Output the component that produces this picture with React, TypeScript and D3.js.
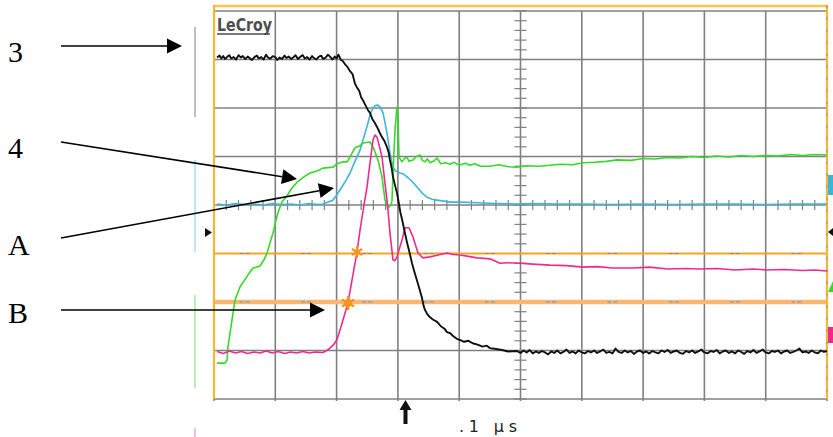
import React from "react";
import * as d3 from "d3";

// time in ns (0.1 µs / div, 10 divisions), amplitude in divisions (-4..4)
const timeTicks = [0, 100, 200, 300, 400, 500, 600, 700, 800, 900, 1000];
const ampTicks = [-4, -3, -2, -1, 0, 1, 2, 3, 4];
const cursorLevels = [-1, -2];
const timeLabel = ".1 µs";
const labels = ["3", "4", "A", "B"];

const ch3Black: [number, number][] = [
  [5, 3.04], [9, 3.08], [12, 3.02], [15, 3.07], [18, 3.01], [22, 3.06], [25, 3.09], [28, 3.02], [32, 3.05],
  [36, 3.0], [40, 3.09], [44, 3.04], [47, 3.07], [51, 3.01], [55, 3.06], [58, 3.03], [62, 2.99], [66, 3.05],
  [70, 3.08], [73, 3.02], [77, 3.05], [81, 3.0], [85, 3.1], [88, 3.04], [92, 3.02], [96, 3.07], [100, 3.05],
  [103, 2.99], [107, 3.04], [111, 3.01], [115, 3.08], [118, 3.03], [122, 3.06], [126, 3.01], [130, 3.05],
  [133, 3.09], [137, 3.01], [141, 3.06], [145, 3.09], [148, 3.02], [152, 3.05], [156, 3.0], [160, 3.07],
  [163, 3.03], [167, 3.0], [171, 3.06], [175, 3.08], [178, 3.01], [182, 3.04], [186, 3.1], [190, 3.05],
  [193, 3.0], [197, 3.06], [200, 3.02], [203, 3.1], [207, 2.99], [210, 2.97], [214, 2.9], [218, 2.84],
  [222, 2.76], [226, 2.7], [230, 2.5], [233, 2.43], [237, 2.35], [240, 2.22], [243, 2.16], [247, 2.06],
  [251, 1.96], [254.5, 1.9], [258, 1.78], [262, 1.7], [266, 1.61], [270, 1.5], [274, 1.4], [278, 1.32],
  [282, 1.2], [285, 1.08], [287, 0.93], [290, 0.75], [292, 0.58], [295, 0.42], [298.5, 0.25], [302, 0.0],
  [304, -0.15], [307, -0.31], [311, -0.55], [315, -0.78], [319, -0.98], [323, -1.2], [327, -1.38],
  [331, -1.55], [335, -1.72], [339, -1.9], [342, -2.08], [344, -2.16], [348, -2.25], [352, -2.31],
  [357, -2.36], [364, -2.41], [370, -2.5], [376, -2.55], [380, -2.62], [385, -2.64], [390, -2.7],
  [396, -2.76], [401, -2.78], [408, -2.82], [415, -2.8], [422, -2.85], [430, -2.88], [438, -2.92],
  [445, -2.9], [450, -2.95], [460, -2.97], [470, -2.99], [480, -3.02], [494, -3.01], [500, -3.05],
  [505, -3.0], [510, -3.04], [515, -2.99], [520, -3.06], [525, -3.02], [530, -3.05], [535, -3.01],
  [540, -3.04], [545, -3.08], [550, -3.02], [555, -3.05], [560, -3.0], [565, -3.06], [570, -3.03],
  [575, -2.98], [580, -3.05], [585, -3.02], [590, -3.06], [595, -3.0], [600, -3.04], [605, -3.06],
  [610, -3.01], [615, -3.04], [620, -3.0], [625, -3.05], [630, -3.02], [635, -2.98], [640, -3.05],
  [645, -3.03], [650, -3.06], [655, -2.96], [660, -3.03], [665, -3.05], [670, -3.0], [675, -3.04],
  [680, -3.01], [685, -3.07], [690, -3.02], [695, -3.0], [700, -3.05], [705, -3.02], [710, -3.06],
  [715, -3.01], [720, -3.04], [725, -3.06], [730, -3.0], [735, -3.03], [740, -2.99], [745, -3.05],
  [750, -3.02], [755, -3.0], [760, -3.05], [765, -3.07], [770, -3.01], [775, -3.04], [780, -3.0],
  [785, -3.05], [790, -3.02], [795, -2.98], [800, -3.04], [805, -3.06], [810, -3.01], [815, -3.03],
  [820, -2.99], [825, -3.06], [830, -3.02], [835, -3.0], [840, -3.05], [845, -3.02], [850, -3.06],
  [855, -3.0], [860, -3.03], [865, -3.07], [870, -3.01], [875, -3.04], [880, -2.99], [885, -3.05],
  [890, -3.02], [895, -2.98], [900, -3.04], [905, -3.06], [910, -3.01], [915, -3.03], [920, -3.0],
  [925, -3.06], [930, -3.02], [935, -3.0], [940, -3.05], [945, -3.03], [950, -3.0], [955, -2.96],
  [960, -3.04], [965, -3.02], [970, -3.05], [975, -3.0], [980, -3.04], [985, -3.06], [990, -3.0],
  [995, -3.03], [1000, -3.01],
];

const chACyan: [number, number][] = [
  [5, 0.02], [20, 0.0], [35, 0.03], [50, 0.01], [65, 0.02], [80, 0.0], [95, 0.03], [110, 0.01],
  [125, 0.02], [140, 0.0], [155, 0.03], [170, 0.01], [178, 0.02], [186, 0.06], [194, 0.1], [200, 0.2],
  [205.5, 0.31], [214, 0.48], [221.9, 0.66], [230, 0.9], [238.2, 1.13], [245, 1.42], [251.2, 1.69],
  [255, 1.88], [259.4, 2.0], [263, 2.05], [267.5, 2.06], [271, 2.02], [275.7, 1.9], [279, 1.7],
  [282.2, 1.48], [285, 1.25], [287.1, 1.07], [290, 0.88], [292, 0.78], [296, 0.7], [303.4, 0.66],
  [309, 0.64], [314.8, 0.58], [322, 0.5], [331.2, 0.37], [340, 0.24], [347.5, 0.16], [356, 0.12],
  [363.8, 0.1], [375, 0.08], [385, 0.06], [400, 0.06], [420, 0.05], [438.8, 0.04], [460, 0.03],
  [494.3, 0.02], [520, 0.03], [560, 0.02], [600, 0.02], [650, 0.01], [700, 0.02], [750, 0.01],
  [800, 0.02], [850, 0.02], [900, 0.01], [950, 0.02], [1000, 0.02],
];

const ch4Green: [number, number][] = [
  [4.9, -3.26], [17.9, -3.26], [21.2, -3.2], [22.8, -2.93], [26.1, -2.64], [29.4, -2.37], [34.3, -1.96],
  [42.4, -1.69], [55.5, -1.44], [63.6, -1.3], [75, -1.26], [81.6, -1.13], [86.5, -0.99], [91.4, -0.78],
  [96.2, -0.58], [101.1, -0.31], [104.4, -0.16], [107.7, -0.04], [110.9, 0.06], [119.1, 0.19],
  [127.2, 0.35], [135.4, 0.47], [146.8, 0.58], [156.6, 0.66], [168, 0.7], [177.8, 0.76], [194.1, 0.78],
  [200.6, 0.85], [210.4, 0.89], [217, 0.89], [221.9, 0.99], [230, 1.18], [238.2, 1.22], [243.1, 1.28],
  [254.5, 1.3], [259.4, 1.2], [267.5, 0.93], [274.1, 0.58], [279, 0.1], [283.8, -0.06], [288.7, 0.0],
  [290.4, 0.1], [292, 0.66], [295.3, 1.55], [298.5, 2.02], [300.2, 1.81], [301.8, 0.99], [306.7, 0.89],
  [310, 0.95], [314.8, 0.99], [318, 0.9], [324.6, 0.93], [330, 1.0], [336, 1.03], [340, 0.92],
  [344.2, 0.89], [348, 0.95], [352.4, 0.87], [358, 0.9], [363.8, 0.97], [370, 0.85], [378, 0.87],
  [385, 0.84], [392, 0.88], [400, 0.82], [410, 0.86], [417.6, 0.82], [425, 0.85], [435, 0.8],
  [450.2, 0.8], [465, 0.83], [480, 0.79], [494.3, 0.78], [510, 0.81], [530, 0.8], [548, 0.82],
  [565, 0.84], [585, 0.83], [601.9, 0.87], [620, 0.88], [640, 0.9], [657.4, 0.93], [680, 0.92],
  [700, 0.96], [720, 0.95], [740, 0.98], [760, 0.97], [780, 1.0], [800, 0.98], [820, 1.01], [840, 0.99],
  [860, 1.02], [880, 1.0], [900, 1.02], [920, 1.01], [940, 1.04], [960, 1.02], [980, 1.04], [1000, 1.03],
];

const chBPink: [number, number][] = [
  [5, -3.02], [15, -3.06], [25, -3.01], [35, -3.05], [45, -3.02], [55, -3.06], [65, -3.03], [75, -3.05],
  [85, -3.01], [95, -3.05], [105, -3.02], [115, -3.06], [125, -3.03], [135, -3.05], [145, -3.02],
  [155, -3.05], [165, -3.03], [177.8, -3.04], [184, -3.0], [189.2, -2.95], [195, -2.88], [200.6, -2.78],
  [205.5, -2.58], [210.4, -2.37], [218.6, -2.02], [225.1, -1.55], [233.3, -0.97], [238.2, -0.52],
  [244.7, 0.0], [249.6, 0.37], [254.5, 0.87], [259.4, 1.34], [262.6, 1.44], [265.9, 1.4], [270, 1.2],
  [274.1, 0.99], [278, 0.55], [282.2, 0.1], [283.8, -0.1], [287.1, -0.58], [292, -1.13], [295, -1.15],
  [298.5, -1.07], [302, -0.92], [306.7, -0.72], [311.6, -0.47], [318.1, -0.47], [324.6, -0.66],
  [332.8, -0.99], [340.9, -1.09], [352.4, -1.07], [365.4, -1.03], [380.1, -0.99], [390, -1.02],
  [401.3, -1.03], [415, -1.06], [429, -1.09], [440, -1.1], [450.2, -1.11], [466.5, -1.2], [480, -1.19],
  [499.2, -1.2], [520, -1.22], [548.1, -1.24], [575, -1.25], [601.9, -1.28], [625, -1.27], [650, -1.3],
  [683.5, -1.3], [710, -1.28], [740, -1.32], [770, -1.31], [792.8, -1.32], [820, -1.31], [850, -1.34],
  [880, -1.32], [902.1, -1.34], [930, -1.33], [960, -1.35], [980, -1.34], [1000, -1.36],
];

// measurement markers on the B trace
const markerStar: [number, number] = [233.3, -0.97];
const markerBlob: [number, number] = [218.6, -2.02];

const W = 833;
const H = 437;

// annotation layout (pixels)
const annLabelX = 8;
const annArrows = [
  { ly: 62, x1: 61, y1: 46, x2: 182, y2: 46 },
  { ly: 158, x1: 61, y1: 142, x2: 297, y2: 179 },
  { ly: 255, x1: 61, y1: 238, x2: 334, y2: 188 },
  { ly: 323, x1: 61, y1: 310, x2: 325, y2: 310 },
];

function Arrow({ x1, y1, x2, y2 }: { x1: number; y1: number; x2: number; y2: number }) {
  const ang = Math.atan2(y2 - y1, x2 - x1);
  const L = 15;
  const hw = 7.5;
  const bx = x2 - L * Math.cos(ang);
  const by = y2 - L * Math.sin(ang);
  const px = -Math.sin(ang) * hw;
  const py = Math.cos(ang) * hw;
  return (
    <g>
      <line x1={x1} y1={y1} x2={bx} y2={by} stroke="#000" strokeWidth={1.6} />
      <path d={`M${x2},${y2}L${bx + px},${by + py}L${bx - px},${by - py}Z`} fill="#000" />
    </g>
  );
}

export default function App() {
  const x = d3.scaleLinear().domain([0, 1000]).range([214, 827]);
  const y = d3.scaleLinear().domain([-4, 4]).range([399, 11]);
  const line = d3
    .line<[number, number]>()
    .x((d) => x(d[0]))
    .y((d) => y(d[1]));

  const x0 = x(0), x1 = x(1000), yTop = y(4), yBot = y(-4);
  const xc = x(500), yc = y(0);
  const divW = x(100) - x(0);
  const g = (divW - 10) / 2;

  const hTicks: number[] = [];
  for (let t = 0; t <= 1000; t += 20) hTicks.push(t);
  const vTicks: number[] = [];
  for (let v = -4; v <= 4.0001; v += 0.2) vTicks.push(v);

  const star = (cx: number, cy: number, r: number) =>
    [0, 60, 120].map((a) => {
      const rad = (a * Math.PI) / 180 + Math.PI / 2;
      return `M${cx - r * Math.cos(rad)},${cy - r * Math.sin(rad)}L${cx + r * Math.cos(rad)},${cy + r * Math.sin(rad)}`;
    }).join("");

  return (
    <svg
      width={W}
      height={H}
      viewBox={`0 0 ${W} ${H}`}
      style={{ position: "fixed", left: 0, top: 0, background: "#fff" }}
    >
      <rect x={0} y={0} width={W} height={H} fill="#fff" />

      {/* left colour bars */}
      <line x1={195} x2={195} y1={27} y2={117} stroke="#a8a8a8" strokeWidth={1.5} />
      <line x1={195} x2={195} y1={160} y2={252} stroke="#a9dcf2" strokeWidth={1.5} />
      <line x1={195} x2={195} y1={295} y2={388} stroke="#a6eaa0" strokeWidth={1.5} />
      <line x1={195} x2={195} y1={428} y2={437} stroke="#f6a6c9" strokeWidth={1.5} />
      <path d={`M${205},${228}L${212},${232.5}L${205},${237}Z`} fill="#111" />

      {/* grid */}
      {timeTicks.map((t) => (
        <line key={"v" + t} x1={x(t)} x2={x(t)} y1={yTop} y2={yBot + 2} stroke="#808080" strokeWidth={1.6} />
      ))}
      {ampTicks
        .filter((v) => !cursorLevels.includes(v))
        .map((v) => (
          <line key={"h" + v} x1={x0} x2={x1} y1={y(v)} y2={y(v)} stroke="#808080" strokeWidth={1.6} />
        ))}
      {/* center ticks */}
      {hTicks.map((t) => (
        <line key={"ht" + t} x1={x(t)} x2={x(t)} y1={yc - 5} y2={yc + 5} stroke="#808080" strokeWidth={1.2} />
      ))}
      {vTicks.map((v) => (
        <line key={"vt" + v.toFixed(1)} x1={xc - 6} x2={xc + 6} y1={y(v)} y2={y(v)} stroke="#808080" strokeWidth={1.2} />
      ))}

      {/* cursor levels */}
      <line x1={x0} x2={x1} y1={y(-2)} y2={y(-2)} stroke="#f9b772" strokeWidth={4.5} />
      <line x1={x0} x2={x1} y1={y(-2)} y2={y(-2)} stroke="#a8a8a8" strokeWidth={1.8} strokeDasharray={`0 ${g} 4 2 4 ${g}`} />
      <line x1={x0} x2={x1} y1={y(-1)} y2={y(-1)} stroke="#f6a623" strokeWidth={1.8} />
      <line x1={x0} x2={x1} y1={y(-1)} y2={y(-1)} stroke="#8a8a8a" strokeWidth={1.2} strokeDasharray={`0 ${g} 4 2 4 ${g}`} />

      {/* frame */}
      <line x1={x0 - 1} x2={x1 + 1} y1={6} y2={6} stroke="#fbc44c" strokeWidth={2.5} />
      <line x1={x0} x2={x0} y1={5} y2={yBot} stroke="#f8b733" strokeWidth={2.2} />
      <line x1={x1} x2={x1} y1={5} y2={yBot} stroke="#f8b733" strokeWidth={2.2} />
      <line x1={x1} x2={x1} y1={5} y2={yBot} stroke="#999" strokeWidth={1.2} strokeDasharray="3 9" />

      {/* LeCroy */}
      <text
        x={217}
        y={31}
        fontFamily="DejaVu Sans Condensed, DejaVu Sans"
        fontWeight="bold"
        fontSize={17}
        fill="#4d4d4d"
        textLength={55}
        lengthAdjust="spacingAndGlyphs"
      >
        LeCroy
      </text>
      <line x1={217} x2={270} y1={34} y2={34} stroke="#4d4d4d" strokeWidth={1.6} />

      {/* traces */}
      <path d={line(chACyan) || ""} fill="none" stroke="#3ab6da" strokeWidth={1.6} strokeLinejoin="round" />
      <path d={line(ch4Green) || ""} fill="none" stroke="#36d82a" strokeWidth={1.6} strokeLinejoin="round" />
      <path d={line(chBPink) || ""} fill="none" stroke="#ee2b8d" strokeWidth={1.6} strokeLinejoin="round" />
      <path d={line(ch3Black) || ""} fill="none" stroke="#111" strokeWidth={1.9} strokeLinejoin="round" />

      {/* markers */}
      <path d={star(x(markerStar[0]), y(markerStar[1]), 6)} stroke="#f7931e" strokeWidth={2.2} />
      <circle cx={x(markerBlob[0])} cy={y(markerBlob[1])} r={4} fill="#f7931e" />
      <path d={star(x(markerBlob[0]), y(markerBlob[1]), 7)} stroke="#f7931e" strokeWidth={2.4} />

      {/* right edge markers */}
      <rect x={828} y={175} width={5} height={20} fill="#3ab6da" />
      <path d="M833,228L828,232L833,236Z" fill="#111" />
      <path d="M833,281L828,292L833,292Z" fill="#36d82a" />
      <rect x={828} y={327} width={5} height={16} fill="#ee2b8d" />

      {/* trigger arrow and timebase */}
      <path d="M405.5,400L399.5,410L403.5,410L403.5,424L407.5,424L407.5,410L411.5,410Z" fill="#111" />
      <text
        x={459}
        y={432}
        fontFamily="DejaVu Sans"
        fontSize={16}
        fill="#222"
        textLength={58}
        lengthAdjust="spacing"
      >
        {timeLabel}
      </text>

      {/* annotations */}
      {annArrows.map((a, i) => (
        <g key={labels[i]}>
          <text x={annLabelX} y={a.ly} fontFamily="Liberation Serif, Times New Roman, serif" fontSize={30} fill="#000">
            {labels[i]}
          </text>
          <Arrow x1={a.x1} y1={a.y1} x2={a.x2} y2={a.y2} />
        </g>
      ))}
    </svg>
  );
}
